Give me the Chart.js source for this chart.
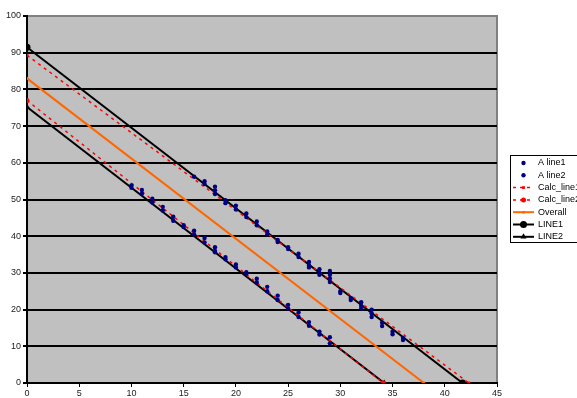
<!DOCTYPE html>
<html>
<head>
<meta charset="utf-8">
<script src="https://cdn.jsdelivr.net/npm/chart.js@4.4.1/dist/chart.umd.min.js"></script>
<style>
  html, body { margin: 0; padding: 0; background: #ffffff; }
  #wrap { width: 577px; height: 398px; position: relative; }
</style>
</head>
<body>
<div id="wrap"><canvas id="chart" width="577" height="398"></canvas></div>
<script>
// measured points, upper group
const aLine1X = [16, 17, 17, 18, 18, 18, 19, 19, 20, 20, 21, 21, 22, 22, 23, 23, 24, 24, 25, 25, 26, 26, 27, 27, 27, 28, 28, 28, 29, 29, 29, 29, 30, 30, 31, 31, 32, 32, 32, 33, 33, 33, 34, 34, 35, 35, 36, 36];
const aLine1Y = [56.2, 55, 54.2, 53.5, 52.5, 51.5, 49.8, 49, 48.3, 47.3, 46.2, 45.2, 44, 43, 41.3, 40.5, 39, 38.4, 37, 36.5, 35.2, 34.3, 33, 32, 31.5, 31, 30, 29.5, 30.5, 29.5, 28.5, 27.5, 25, 24.5, 23.2, 22.6, 22, 21, 20.3, 20, 19, 18, 16.4, 15.5, 14, 13.3, 12.3, 11.7];

// measured points, lower group
const aLine2X = [10, 10, 11, 11, 12, 12, 13, 13, 14, 14, 15, 15, 16, 16, 17, 17, 18, 18, 18, 19, 19, 20, 20, 21, 21, 22, 22, 23, 23, 24, 24, 25, 25, 26, 26, 27, 27, 28, 28, 29, 29];
const aLine2Y = [53.8, 53.2, 52.6, 51.6, 50.2, 49.2, 48, 47, 45.3, 44.2, 43, 42.5, 41.5, 40.5, 39.5, 38.3, 37, 36, 35.6, 34.3, 33.7, 32.3, 31.5, 30.2, 29.8, 28.4, 27.4, 26.2, 25, 23.8, 22.6, 21.3, 20.3, 19.2, 18, 16.6, 15.6, 14, 13.2, 12.5, 10.8];

// fitted lines (start / end)
const calc1X = [0, 42.3];
const calc1Y = [89.3, 0];
const calc2X = [0, 34.1];
const calc2Y = [77, 0];
const overallX = [0, 38];
const overallY = [83, 0];
const line1X = [0, 41.7];
const line1Y = [91.5, 0];
const line2X = [0, 34.2];
const line2Y = [75.2, 0];

const seriesNames = ["A line1", "A line2", "Calc_line1", "Calc_line2", "Overall", "LINE1", "LINE2"];

const toPts = (xs, ys) => xs.map((x, i) => ({ x: x, y: ys[i] }));

const FONT = "'Liberation Sans', Arial, sans-serif";

// grey plot background and the right border
const plotBg = {
  id: "plotBg",
  beforeDraw(chart) {
    const { ctx, chartArea: a } = chart;
    ctx.save();
    ctx.fillStyle = "#c0c0c0";
    ctx.fillRect(a.left, a.top, a.right - a.left, a.bottom - a.top);
    ctx.strokeStyle = "#808080";
    ctx.lineWidth = 2;
    ctx.beginPath();
    ctx.moveTo(a.right, a.top - 1);
    ctx.lineTo(a.right, a.bottom);
    ctx.stroke();
    ctx.restore();
  },
};

// excel-like legend box on the right
const boxLegend = {
  id: "boxLegend",
  afterDraw(chart) {
    const ctx = chart.ctx;
    const left = 510, top = 155, w = 80, h = 87;
    ctx.save();
    ctx.fillStyle = "#ffffff";
    ctx.fillRect(left, top, w, h);
    ctx.strokeStyle = "#000";
    ctx.lineWidth = 1;
    ctx.strokeRect(left + 0.5, top + 0.5, w, h);
    ctx.font = "9px " + FONT;
    ctx.textBaseline = "middle";
    chart.data.datasets.forEach((ds, i) => {
      const y = top + 8 + i * 12.3;
      if (ds.showLine) {
        ctx.strokeStyle = ds.borderColor;
        ctx.lineWidth = ds.borderWidth;
        ctx.setLineDash(ds.borderDash || []);
        ctx.beginPath();
        ctx.moveTo(513, y);
        ctx.lineTo(534, y);
        ctx.stroke();
        ctx.setLineDash([]);
      }
      ctx.fillStyle = ds.pointBackgroundColor;
      Chart.helpers.drawPoint(ctx, {
        pointStyle: ds.pointStyle,
        radius: ds.pointRadius,
        borderWidth: 0,
      }, 523.5, y);
      ctx.fillStyle = "#000";
      ctx.fillText(ds.label, 538, y);
    });
    ctx.restore();
  },
};

new Chart(document.getElementById("chart"), {
  type: "scatter",
  data: {
    datasets: [
      {
        label: seriesNames[0],
        data: toPts(aLine1X, aLine1Y),
        showLine: false,
        pointStyle: "circle",
        pointRadius: 2.2,
        pointBackgroundColor: "#000080",
        pointBorderWidth: 0,
        borderColor: "#000080",
      },
      {
        label: seriesNames[1],
        data: toPts(aLine2X, aLine2Y),
        showLine: false,
        pointStyle: "circle",
        pointRadius: 2.2,
        pointBackgroundColor: "#000080",
        pointBorderWidth: 0,
        borderColor: "#000080",
      },
      {
        label: seriesNames[2],
        data: toPts(calc1X, calc1Y),
        showLine: true,
        borderColor: "#ff0000",
        borderWidth: 1.5,
        borderDash: [3, 4],
        pointStyle: "rect",
        pointRadius: 2,
        pointBackgroundColor: "#ff0000",
        pointBorderWidth: 0,
      },
      {
        label: seriesNames[3],
        data: toPts(calc2X, calc2Y),
        showLine: true,
        borderColor: "#ff0000",
        borderWidth: 1.5,
        borderDash: [3, 4],
        pointStyle: "circle",
        pointRadius: 2.5,
        pointBackgroundColor: "#ff0000",
        pointBorderWidth: 0,
      },
      {
        label: seriesNames[4],
        data: toPts(overallX, overallY),
        showLine: true,
        borderColor: "#ff6600",
        borderWidth: 2,
        pointStyle: "rect",
        pointRadius: 1.8,
        pointBackgroundColor: "#ff6600",
        pointBorderWidth: 0,
      },
      {
        label: seriesNames[5],
        data: toPts(line1X, line1Y),
        showLine: true,
        borderColor: "#000",
        borderWidth: 2,
        pointStyle: "circle",
        pointRadius: 3.5,
        pointBackgroundColor: "#000",
        pointBorderWidth: 0,
      },
      {
        label: seriesNames[6],
        data: toPts(line2X, line2Y),
        showLine: true,
        borderColor: "#000",
        borderWidth: 2,
        pointStyle: "triangle",
        pointRadius: 3.5,
        pointBackgroundColor: "#000",
        pointBorderWidth: 0,
      },
    ],
  },
  options: {
    responsive: false,
    animation: false,
    layout: { padding: { top: 16, right: 80, left: 0, bottom: 0 } },
    plugins: {
      legend: { display: false },
      tooltip: { enabled: false },
    },
    scales: {
      x: {
        type: "linear",
        min: 0,
        max: 45,
        afterFit: (s) => { s.height = 15; },
        ticks: {
          stepSize: 5,
          padding: 1,
          color: "#222",
          font: { family: FONT, size: 9 },
        },
        grid: {
          drawOnChartArea: false,
          tickLength: 4,
          tickColor: "#000",
          lineWidth: 1,
        },
        border: { color: "#000", width: 2 },
      },
      y: {
        min: 0,
        max: 100,
        afterFit: (s) => { s.width = 27; },
        ticks: {
          stepSize: 10,
          padding: 2,
          color: "#222",
          font: { family: FONT, size: 9 },
        },
        grid: {
          color: (c) => (c.tick && c.tick.value === 100 ? "#808080" : "#000"),
          lineWidth: 2,
          tickLength: 4,
          tickColor: "#000",
        },
        border: { color: "#000", width: 2 },
      },
    },
  },
  plugins: [plotBg, boxLegend],
});
</script>
</body>
</html>
